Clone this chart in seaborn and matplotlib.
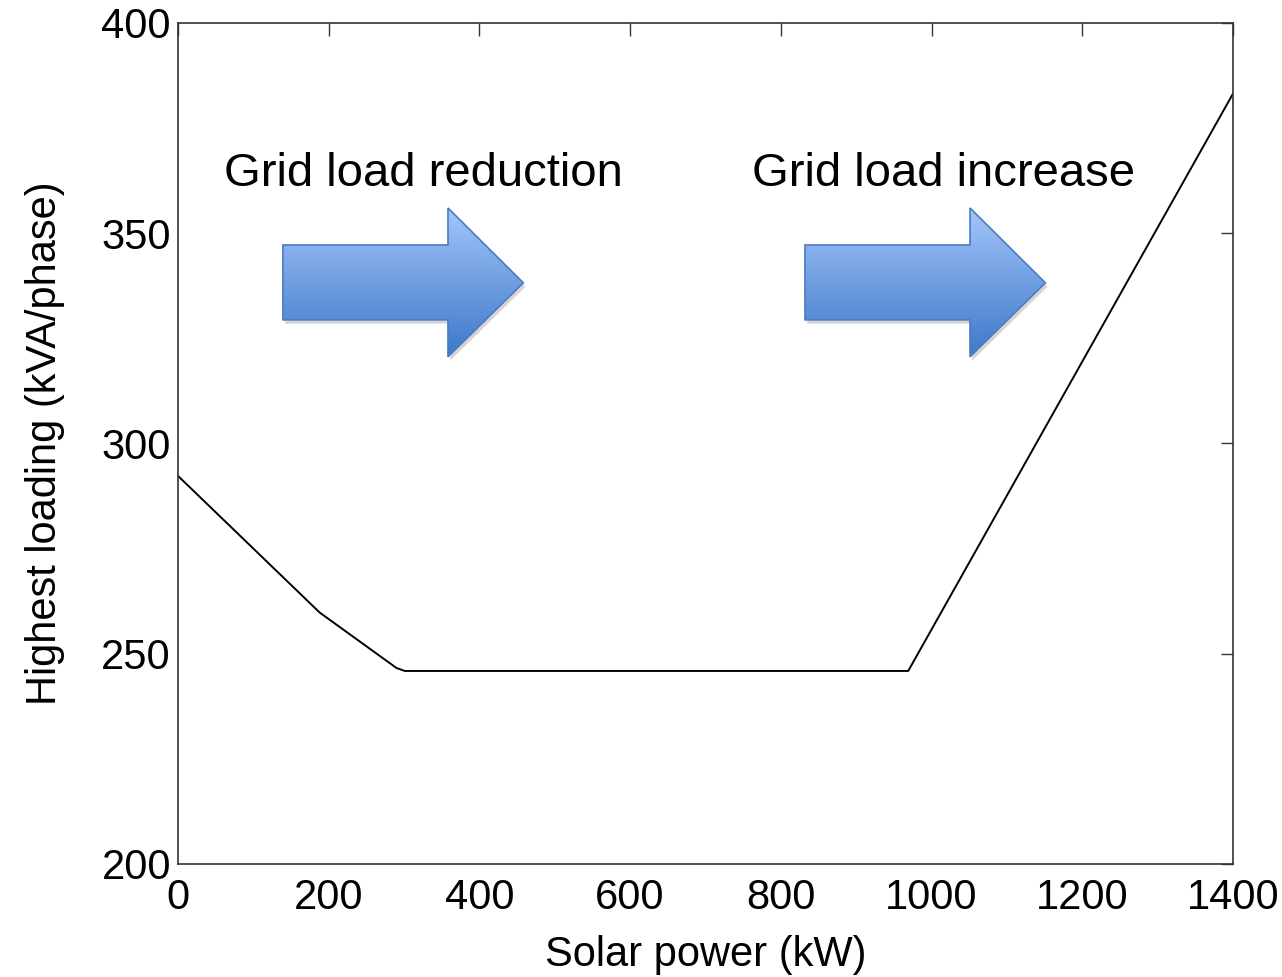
import numpy as np
import pandas as pd
import matplotlib
matplotlib.use("Agg")
import matplotlib.pyplot as plt
from matplotlib.patches import Polygon
import seaborn as sns

# Data
solar_kw = [0, 188, 290, 301, 969, 1400]
loading = [292.3, 259.8, 246.6, 245.9, 245.9, 383.2]
x_ticks = [0, 200, 400, 600, 800, 1000, 1200, 1400]
y_ticks = [200, 250, 300, 350, 400]
annotations = ["Grid load reduction", "Grid load increase"]

sns.set_theme(style="white")
plt.rcParams['font.family'] = ['Liberation Sans', 'DejaVu Sans']
plt.rcParams['text.color'] = 'black'
plt.rcParams['axes.labelcolor'] = 'black'

df = pd.DataFrame({"Solar power (kW)": solar_kw, "Highest loading (kVA/phase)": loading})

fig = plt.figure(figsize=(12.82, 9.77), dpi=100)
ax = fig.add_axes([0.1388, 0.1157, 0.823, 0.8608])
sns.lineplot(data=df, x="Solar power (kW)", y="Highest loading (kVA/phase)",
             color="black", linewidth=1.4, ax=ax)
ax.set_xlim(0, 1400)
ax.set_ylim(200, 400)
ax.set_xticks(x_ticks)
ax.set_yticks(y_ticks)
ax.tick_params(direction="in", length=9, width=1, labelsize=30, colors="#333333",
               top=True, right=True, pad=5)
ax.tick_params(axis="x", pad=10)
ax.tick_params(axis="both", labelcolor="black")
for s in ax.spines.values():
    s.set_color("#333333")
    s.set_linewidth(1.2)
ax.set_xlabel("Solar power (kW)", fontsize=30, labelpad=12)
ax.set_ylabel("Highest loading (kVA/phase)", fontsize=30, labelpad=26)

# Arrows with vertical gradient
def draw_arrow(x0):
    xb0, xb1, xt = x0, x0 + 219, x0 + 319
    yb0, yb1 = 329.4, 347.2
    yh0, yh1, ym = 320.6, 356.0, 338.2
    pts = [(xb0, yb0), (xb0, yb1), (xb1, yb1), (xb1, yh1), (xt, ym),
           (xb1, yh0), (xb1, yb0)]
    sh = Polygon([(px + 3, py - 0.9) for px, py in pts], closed=True,
                 facecolor="#888888", alpha=0.35, edgecolor="none", zorder=2)
    ax.add_patch(sh)
    poly = Polygon(pts, closed=True, facecolor="none", edgecolor="#4a7cbf",
                   linewidth=1.2, zorder=4)
    ax.add_patch(poly)
    grad = np.linspace(0, 1, 256).reshape(-1, 1)
    cmap = matplotlib.colors.LinearSegmentedColormap.from_list(
        "g", ["#a3c6fa", "#3d78c9"])
    im = ax.imshow(grad, extent=(xb0, xt, yh0, yh1), origin="upper",
                   cmap=cmap, aspect="auto", zorder=3)
    im.set_clip_path(poly)

draw_arrow(139.3)
draw_arrow(832.0)
ax.set_xlim(0, 1400)
ax.set_ylim(200, 400)

ax.text(326, 364.0, annotations[0], fontsize=34, ha="center", va="center", color="black")
ax.text(1016, 364.0, annotations[1], fontsize=34, ha="center", va="center", color="black")

fig.savefig("out.png", dpi=100)
